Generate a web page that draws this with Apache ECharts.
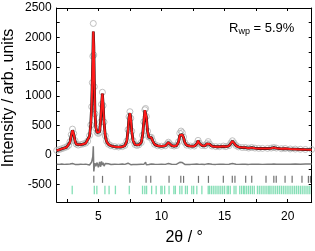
<!DOCTYPE html>
<html><head><meta charset="utf-8">
<script src="https://cdn.jsdelivr.net/npm/echarts@6/dist/echarts.min.js"></script>
<style>html,body{margin:0;padding:0;background:#fff}#c{width:315px;height:251px}</style>
</head><body><div id="c"></div>
<script>
// 2theta positions (deg)
const twoTheta = [1.7,1.9,2.1,2.3,2.5,2.65,2.75,2.85,2.95,3.05,3.15,3.25,3.4,3.6,3.8,4.0,4.15,4.3,4.4,4.47,4.52,4.56,4.6,4.64,4.68,4.73,4.8,4.9,5.0,5.1,5.18,5.25,5.32,5.38,5.45,5.55,5.65,5.8,6.0,6.3,6.6,6.9,7.1,7.25,7.35,7.43,7.5,7.57,7.65,7.75,7.9,8.05,8.2,8.4,8.5,8.6,8.68,8.74,8.8,8.9,9.0,9.1,9.2,9.3,9.45,9.7,10.0,10.3,10.45,10.55,10.65,10.8,11.0,11.2,11.35,11.45,11.55,11.65,11.75,11.85,12.0,12.3,12.6,12.8,12.9,13.0,13.2,13.45,13.6,13.7,13.8,14.0,14.3,14.6,14.9,15.1,15.35,15.5,15.62,15.75,15.9,16.1,16.4,16.65,16.9,17.15,17.4,17.7,18.0,18.4,18.7,18.9,19.1,19.5,19.8,20.2,20.6,21.0,21.4,21.9];
// observed intensity
const yObs = [78,92,106,122,138,165,225,345,440,365,245,185,168,178,188,202,235,330,510,820,1230,1680,2237,1700,1160,700,455,385,365,385,560,860,1067,840,560,325,235,182,157,142,136,142,162,235,430,650,736,625,405,245,178,162,172,212,335,565,770,791,655,405,305,302,300,242,182,156,149,156,188,218,192,162,152,162,225,370,407,380,305,212,167,152,152,192,248,202,162,157,192,228,187,152,142,141,152,142,158,205,242,204,162,137,127,127,117,127,117,112,112,112,117,127,117,107,110,102,100,97,94,92];
// calculated intensity
const yCalc = [75,88,104,118,134,160,215,330,420,355,240,182,168,175,185,200,230,320,520,850,1270,1620,2100,1850,1250,720,470,380,370,395,580,840,1045,850,560,320,230,180,155,140,134,140,160,230,420,640,712,620,400,242,176,160,170,210,330,560,760,770,650,400,300,298,296,240,180,155,148,155,185,212,190,160,150,160,220,335,325,345,295,210,165,150,150,190,242,200,160,155,190,222,185,150,140,140,148,140,155,200,235,200,160,135,125,125,115,125,115,110,110,110,115,125,115,105,108,100,98,95,92,90];
// difference curve (offset)
const yDiff = [-158,-160,-155,-160,-156,-158,-152,-150,-145,-158,-160,-157,-162,-158,-160,-156,-160,-170,-200,-120,-90,-30,148,-280,-200,-140,-190,-130,-210,-120,-200,-110,-170,-130,-190,-145,-175,-150,-162,-156,-160,-155,-160,-150,-140,-170,-130,-165,-150,-162,-158,-160,-156,-158,-150,-160,-135,-125,-168,-150,-162,-158,-152,-160,-157,-160,-156,-160,-152,-145,-160,-158,-160,-156,-150,-125,-118,-130,-150,-160,-157,-160,-156,-155,-150,-160,-158,-160,-155,-150,-160,-158,-160,-156,-158,-160,-157,-150,-145,-160,-158,-160,-156,-158,-160,-156,-158,-157,-160,-156,-158,-155,-158,-157,-156,-158,-155,-157,-155,-154];
// reflection positions, phase 1 (dark) and phase 2 (green)
const refl1 = [4.64,5.33,7.5,8.78,9.15,10.6,11.53,11.75,12.93,13.72,14.9,15.61,15.82,16.67,17.15,18.28,18.9,19.09,19.79,20.35,21.13,21.64,21.8];
const refl2 = [2.93,4.68,4.88,5.52,5.85,6.35,7.45,8.5,8.68,8.82,9.22,9.58,9.95,10.05,10.25,10.6,10.98,11.1,11.45,11.62,11.9,12.05,12.4,12.55,12.8,13.2,13.7,13.8,13.95,14.1,14.25,14.4,14.55,14.7,14.85,15.0,15.2,15.3,15.45,15.75,15.9,16.2,16.35,16.5,16.6,16.75,16.9,17.05,17.2,17.35,17.6,17.75,17.9,18.05,18.2,18.35,18.5,18.6,18.75,18.9,19.05,19.2,19.35,19.5,19.65,19.8,19.95,20.1,20.25,20.4,20.55,20.7,20.85,21.0,21.15,21.3,21.45,21.6,21.75];
const refl1Level = -415, refl2Level = -595;
const xLabels = [5,10,15,20];
const xTicks = [2.5,5,7.5,10,12.5,15,17.5,20];
const yLabels = [-500,0,500,1000,1500,2000,2500];
const yTicks = [-500,-250,0,250,500,750,1000,1250,1500,1750,2000,2250,2500];

const pts = (ys) => twoTheta.map((x,i)=>[x,ys[i]]);
const chart = echarts.init(document.getElementById('c'));
const FONT = 'Liberation Sans, Arial, sans-serif';
const tick = (vals)=>({show:true,inside:true,length:3,lineStyle:{color:'#000'},customValues:vals});
const line = {show:true,onZero:false,lineStyle:{color:'#000',width:1}};
chart.setOption({
  animation:false,
  grid:{left:56.7,right:3.3,top:8,bottom:43.3},
  xAxis:[
    {type:'value',min:1.7,max:21.9,position:'bottom',splitLine:{show:false},axisLine:line,axisTick:tick(xTicks),
      axisLabel:{customValues:xLabels,color:'#000',fontSize:12,fontFamily:FONT,margin:9,formatter:v=>String(v)},
      name:'2θ / °',nameLocation:'middle',nameGap:28,nameTextStyle:{color:'#000',fontSize:16,fontFamily:FONT}},
    {type:'value',min:1.7,max:21.9,position:'top',splitLine:{show:false},axisLine:line,axisTick:tick(xTicks),axisLabel:{show:false}}
  ],
  yAxis:[
    {type:'value',min:-800,max:2500,position:'left',splitLine:{show:false},axisLine:line,axisTick:tick(yTicks),
      axisLabel:{customValues:yLabels,color:'#000',fontSize:12,fontFamily:FONT,margin:5,formatter:v=>String(v)}},
    {type:'value',min:-800,max:2500,position:'right',splitLine:{show:false},axisLine:line,axisTick:tick(yTicks),axisLabel:{show:false}}
  ],
  graphic:[
    {type:'text',x:9,y:98,rotation:Math.PI/2,style:{text:'Intensity / arb. units',fill:'#000',font:'16px '+FONT,align:'center',verticalAlign:'middle'}},
    {type:'text',left:229,top:22,style:{rich:{a:{fontSize:13,fontFamily:FONT,fill:'#000'},b:{fontSize:9,fontFamily:FONT,fill:'#000',padding:[6,0,0,0]}},text:'{a|R}{b|wp}{a| = 5.9%}'}}
  ],
  series:[
    {type:'scatter',data:pts(yObs),symbol:'circle',symbolSize:6,itemStyle:{color:'rgba(255,255,255,0)',borderColor:'#b0b0b0',borderWidth:1},z:1},
    {type:'line',data:pts(yCalc),symbol:'none',lineStyle:{color:'#111',width:2.8},z:2},
    {type:'line',data:pts(yCalc),symbol:'none',lineStyle:{color:'#ff1a1a',width:2},z:3},
    {type:'line',data:pts(yDiff),symbol:'none',lineStyle:{color:'#7a7a7a',width:1.5},z:2},
    {type:'scatter',data:refl1.map(x=>[x,refl1Level]),symbol:'rect',symbolSize:[1.2,7],itemStyle:{color:'#505050'},z:2},
    {type:'scatter',data:refl2.map(x=>[x,refl2Level]),symbol:'rect',symbolSize:[1.3,8.5],itemStyle:{color:'#6fd8a8',opacity:0.85},z:2}
  ]
});
</script></body></html>
